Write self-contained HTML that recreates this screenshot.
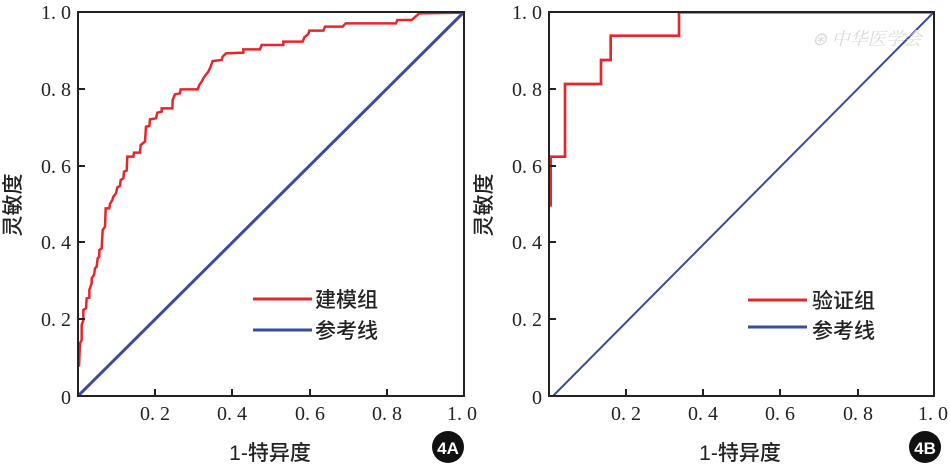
<!DOCTYPE html>
<html><head><meta charset="utf-8"><style>
html,body{margin:0;padding:0;background:#fff;}
svg text{font-family:"Liberation Serif","Noto Serif CJK SC",serif;fill:#222;}
.cj{font-family:"Liberation Sans","Noto Sans CJK SC",sans-serif;font-weight:500;}
</style></head><body>
<svg width="950" height="468" viewBox="0 0 950 468" xmlns="http://www.w3.org/2000/svg">
<!-- LEFT PANEL -->
<line x1="78" y1="396" x2="464" y2="12" stroke="#3a4ba0" stroke-width="3"/>
<g transform="translate(60,0) scale(0.33333)">
<polyline fill="none" stroke="#e8262a" stroke-width="7.5" points="57,1100 60,1030 65,1020 65,975 70,960 70,930 78,925 80,895 88,893 88,870 95,850 95,835 102,825 105,805 110,800 113,775 118,770 118,750 125,745 128,690 135,680 137,625 148,625 150,612 157,600 160,590 168,580 172,562 180,558 182,540 190,535 192,515 200,512 202,470 220,470 222,458 240,458 242,435 255,425 258,380 268,378 270,358 288,355 292,338 305,335 305,325 337,325 338,300 345,283 360,280 362,268 413,268 418,255 425,245 430,235 437,225 445,215 452,200 458,183 485,180 488,170 498,160 550,158 550,148 600,148 605,135 670,135 670,125 728,125 733,112 745,102 748,92 790,92 795,80 848,80 857,70 1008,70 1012,60 1055,60 1078,40 1210,38"/>
</g>
<rect x="78" y="12" width="386" height="384" fill="none" stroke="#222" stroke-width="2"/>
<g stroke="#222" stroke-width="2">
<line x1="155" y1="396" x2="155" y2="389"/><line x1="232" y1="396" x2="232" y2="389"/><line x1="310" y1="396" x2="310" y2="389"/><line x1="387" y1="396" x2="387" y2="389"/>
<line x1="78" y1="319" x2="85" y2="319"/><line x1="78" y1="242" x2="85" y2="242"/><line x1="78" y1="166" x2="85" y2="166"/><line x1="78" y1="89" x2="85" y2="89"/>
</g>
<g font-size="20" text-anchor="end">
<text x="71" y="19">1. 0</text><text x="71" y="96">0. 8</text><text x="71" y="173">0. 6</text><text x="71" y="249">0. 4</text><text x="71" y="326">0. 2</text><text x="71" y="404">0</text>
</g>
<g font-size="20" text-anchor="middle">
<text x="155" y="420">0. 2</text><text x="232" y="420">0. 4</text><text x="310" y="420">0. 6</text><text x="387" y="420">0. 8</text><text x="462" y="420">1. 0</text>
</g>
<text x="270" y="460" font-size="21" text-anchor="middle" class="cj">1-特异度</text>
<text transform="translate(20,205) rotate(-90)" font-size="21" text-anchor="middle" class="cj">灵敏度</text>
<line x1="253" y1="299" x2="312" y2="299" stroke="#e8262a" stroke-width="3"/>
<line x1="253" y1="330" x2="312" y2="330" stroke="#3a4ba0" stroke-width="3"/>
<text x="315" y="307" font-size="21" class="cj">建模组</text>
<text x="315" y="338" font-size="21" class="cj">参考线</text>
<circle cx="448" cy="447" r="16" fill="#111"/>
<text x="448" y="454" font-size="17" text-anchor="middle" class="cj" style="fill:#fff;font-weight:bold">4A</text>

<!-- RIGHT PANEL -->
<line x1="553" y1="396" x2="934" y2="12" stroke="#3a4ba0" stroke-width="2"/>
<text x="812" y="45" font-size="18" font-style="italic" style="fill:#dadada">⊛ 中华医学会</text>
<g transform="translate(530,0) scale(0.33333)">
<polyline fill="none" stroke="#e8262a" stroke-width="8" points="62,620 62,470 105,470 105,252 213,252 213,180 242,180 242,107 447,107 447,37 1213,37"/>
</g>
<rect x="549" y="12" width="385" height="384" fill="none" stroke="#222" stroke-width="2"/>
<g stroke="#222" stroke-width="2">
<line x1="626" y1="396" x2="626" y2="389"/><line x1="703" y1="396" x2="703" y2="389"/><line x1="780" y1="396" x2="780" y2="389"/><line x1="858" y1="396" x2="858" y2="389"/>
<line x1="549" y1="319" x2="556" y2="319"/><line x1="549" y1="242" x2="556" y2="242"/><line x1="549" y1="166" x2="556" y2="166"/><line x1="549" y1="89" x2="556" y2="89"/>
</g>
<g font-size="20" text-anchor="end">
<text x="542" y="19">1. 0</text><text x="542" y="96">0. 8</text><text x="542" y="173">0. 6</text><text x="542" y="249">0. 4</text><text x="542" y="326">0. 2</text><text x="542" y="404">0</text>
</g>
<g font-size="20" text-anchor="middle">
<text x="626" y="420">0. 2</text><text x="703" y="420">0. 4</text><text x="780" y="420">0. 6</text><text x="858" y="420">0. 8</text><text x="933" y="420">1. 0</text>
</g>
<text x="740" y="460" font-size="21" text-anchor="middle" class="cj">1-特异度</text>
<text transform="translate(491,205) rotate(-90)" font-size="21" text-anchor="middle" class="cj">灵敏度</text>
<line x1="748" y1="300" x2="807" y2="300" stroke="#e8262a" stroke-width="3"/>
<line x1="748" y1="327" x2="807" y2="327" stroke="#3a4ba0" stroke-width="3"/>
<text x="812" y="308" font-size="21" class="cj">验证组</text>
<text x="812" y="338" font-size="21" class="cj">参考线</text>
<circle cx="925" cy="447" r="16" fill="#111"/>
<text x="925" y="454" font-size="17" text-anchor="middle" class="cj" style="fill:#fff;font-weight:bold">4B</text>
</svg>
</body></html>
